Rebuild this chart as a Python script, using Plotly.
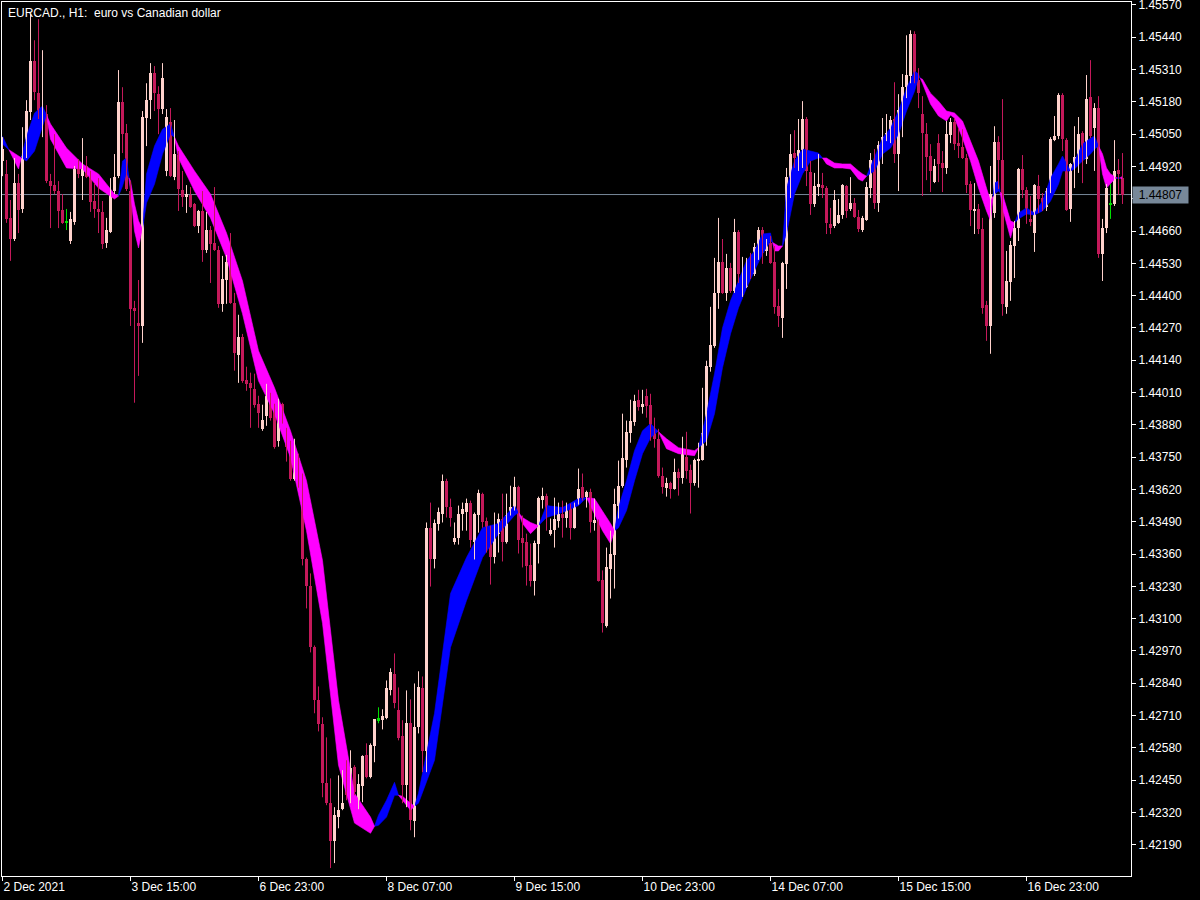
import plotly.graph_objects as go

TITLE = "EURCAD., H1:  euro vs Canadian dollar"
DATE_TICK_BARS = [0, 32, 64, 96, 128, 160, 192, 224, 256]
DATE_LABELS = ["2 Dec 2021", "3 Dec 15:00", "6 Dec 23:00", "8 Dec 07:00", "9 Dec 15:00",
               "10 Dec 23:00", "14 Dec 07:00", "15 Dec 15:00", "16 Dec 23:00"]
PRICE_TICKS = [1.45570, 1.45440, 1.45310, 1.45180, 1.45050, 1.44920, 1.44790, 1.44660, 1.44530,
               1.44400, 1.44270, 1.44140, 1.44010, 1.43880, 1.43750, 1.43620, 1.43490, 1.43360,
               1.43230, 1.43100, 1.42970, 1.42840, 1.42710, 1.42580, 1.42450, 1.42320, 1.42190]
BID = 1.44807
GREEN_BARS = [16, 94, 277]

OPEN = [
    1.44942, 1.44890, 1.44713, 1.44628, 1.44853, 1.44749, 1.44962, 1.45139, 1.45344, 1.45215,
    1.45131, 1.45131, 1.44861, 1.44845, 1.44821, 1.44745, 1.44693, 1.44620, 1.44697, 1.44930,
    1.44881, 1.44922, 1.44881, 1.44781, 1.44749, 1.44737, 1.44612, 1.44656, 1.44821, 1.44881,
    1.45179, 1.45054, 1.44821, 1.44351, 1.44291, 1.44278, 1.45115, 1.45187, 1.45296, 1.45211,
    1.45151, 1.44902, 1.45099, 1.44877, 1.44966, 1.44825, 1.44797, 1.44805, 1.44769, 1.44680,
    1.44741, 1.44584, 1.44664, 1.44612, 1.44584, 1.44367, 1.44463, 1.44540, 1.44371, 1.44162,
    1.44234, 1.44061, 1.44049, 1.44025, 1.43965, 1.43864, 1.43917, 1.43977, 1.43949, 1.43816,
    1.43965, 1.43864, 1.43788, 1.43663, 1.43748, 1.43655, 1.43342, 1.43233, 1.42984, 1.42771,
    1.42675, 1.42437, 1.42357, 1.42204, 1.42301, 1.42333, 1.42421, 1.42369, 1.42502, 1.42337,
    1.42425, 1.42550, 1.42461, 1.42586, 1.42691, 1.42691, 1.42699, 1.42811, 1.42876, 1.42731,
    1.42626, 1.42429, 1.42679, 1.42285, 1.42662, 1.42819, 1.42566, 1.43466, 1.43338, 1.43479,
    1.43523, 1.43655, 1.43551, 1.43410, 1.43426, 1.43523, 1.43531, 1.43567, 1.43410, 1.43519,
    1.43603, 1.43491, 1.43434, 1.43350, 1.43442, 1.43499, 1.43410, 1.43519, 1.43543, 1.43631,
    1.43426, 1.43410, 1.43314, 1.43253, 1.43402, 1.43579, 1.43595, 1.43442, 1.43458, 1.43491,
    1.43523, 1.43507, 1.43559, 1.43466, 1.43567, 1.43631, 1.43591, 1.43611, 1.43487, 1.43495,
    1.43257, 1.43072, 1.43298, 1.43358, 1.43555, 1.43635, 1.43740, 1.43848, 1.43893, 1.43981,
    1.43953, 1.43997, 1.43961, 1.43848, 1.43824, 1.43675, 1.43627, 1.43647, 1.43623, 1.43692,
    1.43667, 1.43752, 1.43700, 1.43647, 1.43736, 1.43740, 1.43844, 1.44114, 1.44198, 1.44411,
    1.44536, 1.44411, 1.44512, 1.44419, 1.44656, 1.44403, 1.44435, 1.44512, 1.44488, 1.44588,
    1.44664, 1.44580, 1.44612, 1.44536, 1.44359, 1.44311, 1.44528, 1.44873, 1.44974, 1.44954,
    1.44986, 1.45111, 1.44898, 1.44769, 1.44837, 1.44845, 1.44833, 1.44689, 1.44680, 1.44693,
    1.44725, 1.44841, 1.44749, 1.44773, 1.44717, 1.44664, 1.44705, 1.44833, 1.44942, 1.44773,
    1.44998, 1.45034, 1.45050, 1.45111, 1.44970, 1.45147, 1.45239, 1.45283, 1.45452, 1.45267,
    1.45131, 1.45050, 1.44962, 1.44857, 1.45014, 1.44934, 1.44914, 1.45046, 1.45099, 1.45014,
    1.44998, 1.44954, 1.44849, 1.44741, 1.44749, 1.44668, 1.44363, 1.44278, 1.44733, 1.45018,
    1.44946, 1.44355, 1.44455, 1.44600, 1.44672, 1.44910, 1.44825, 1.44709, 1.44652, 1.44841,
    1.44793, 1.44757, 1.44821, 1.45026, 1.45042, 1.45207, 1.45026, 1.44749, 1.44930, 1.44954,
    1.45054, 1.44950, 1.45199, 1.45074, 1.45155, 1.44568, 1.44672, 1.44765, 1.44769, 1.44906,
    1.44873,
]
HIGH = [
    1.45038, 1.44946, 1.44785, 1.44954, 1.44890, 1.45078, 1.45187, 1.45533, 1.45428, 1.45513,
    1.45388, 1.45167, 1.44890, 1.45050, 1.44861, 1.44809, 1.44749, 1.44737, 1.44922, 1.44950,
    1.45034, 1.44962, 1.44902, 1.44853, 1.44873, 1.44781, 1.44713, 1.44873, 1.44970, 1.45308,
    1.45239, 1.45091, 1.44861, 1.44379, 1.44463, 1.45143, 1.45255, 1.45336, 1.45324, 1.45243,
    1.45336, 1.45151, 1.45155, 1.45107, 1.44982, 1.44902, 1.44845, 1.44837, 1.44773, 1.44745,
    1.44821, 1.44737, 1.44680, 1.44837, 1.44600, 1.44560, 1.44564, 1.44652, 1.44411, 1.44323,
    1.44246, 1.44114, 1.44090, 1.44086, 1.43997, 1.43961, 1.44045, 1.44009, 1.43965, 1.43985,
    1.43969, 1.43868, 1.43816, 1.43824, 1.43764, 1.43684, 1.43346, 1.43282, 1.42992, 1.42827,
    1.42703, 1.42622, 1.42457, 1.42341, 1.42469, 1.42490, 1.42530, 1.42570, 1.42510, 1.42474,
    1.42550, 1.42598, 1.42598, 1.42695, 1.42743, 1.42735, 1.42851, 1.42900, 1.42960, 1.42823,
    1.42691, 1.42811, 1.42775, 1.42839, 1.42888, 1.42867, 1.43487, 1.43567, 1.43499, 1.43547,
    1.43680, 1.43663, 1.43583, 1.43487, 1.43555, 1.43567, 1.43583, 1.43575, 1.43527, 1.43619,
    1.43607, 1.43507, 1.43474, 1.43527, 1.43523, 1.43603, 1.43603, 1.43635, 1.43671, 1.43635,
    1.43515, 1.43442, 1.43402, 1.43414, 1.43591, 1.43627, 1.43603, 1.43503, 1.43587, 1.43567,
    1.43575, 1.43567, 1.43563, 1.43567, 1.43704, 1.43684, 1.43615, 1.43623, 1.43583, 1.43499,
    1.43294, 1.43386, 1.43454, 1.43623, 1.43736, 1.43925, 1.43897, 1.43981, 1.44001, 1.44021,
    1.44021, 1.44025, 1.44005, 1.43909, 1.43864, 1.43708, 1.43667, 1.43651, 1.43744, 1.43704,
    1.43832, 1.43852, 1.43720, 1.43744, 1.43808, 1.44029, 1.44138, 1.44355, 1.44552, 1.44713,
    1.44628, 1.44568, 1.44532, 1.44709, 1.44664, 1.44556, 1.44552, 1.44572, 1.44612, 1.44676,
    1.44676, 1.44628, 1.44640, 1.44600, 1.44427, 1.44536, 1.44914, 1.45050, 1.45066, 1.45111,
    1.45183, 1.45119, 1.44942, 1.44894, 1.44970, 1.44894, 1.44841, 1.44753, 1.44825, 1.44789,
    1.44849, 1.44845, 1.44877, 1.44793, 1.44745, 1.44721, 1.44857, 1.44974, 1.44990, 1.45022,
    1.45115, 1.45131, 1.45123, 1.45259, 1.45211, 1.45292, 1.45448, 1.45468, 1.45464, 1.45316,
    1.45203, 1.45095, 1.45010, 1.44950, 1.45050, 1.44982, 1.45103, 1.45115, 1.45115, 1.45074,
    1.45070, 1.44970, 1.44861, 1.44853, 1.44769, 1.44713, 1.44379, 1.44922, 1.45082, 1.45042,
    1.45191, 1.44580, 1.44620, 1.44701, 1.44914, 1.44966, 1.44837, 1.44801, 1.44849, 1.44886,
    1.44813, 1.44833, 1.45038, 1.45123, 1.45215, 1.45215, 1.45034, 1.44934, 1.45082, 1.45119,
    1.45062, 1.45288, 1.45348, 1.45175, 1.45203, 1.44709, 1.44849, 1.44849, 1.45026, 1.44950,
    1.44974,
]
LOW = [
    1.44881, 1.44693, 1.44540, 1.44620, 1.44652, 1.44733, 1.44954, 1.45107, 1.45187, 1.45111,
    1.45038, 1.44853, 1.44672, 1.44809, 1.44672, 1.44689, 1.44664, 1.44608, 1.44685, 1.44873,
    1.44785, 1.44873, 1.44737, 1.44713, 1.44652, 1.44588, 1.44592, 1.44652, 1.44809, 1.44873,
    1.44974, 1.44821, 1.44278, 1.43969, 1.44077, 1.44210, 1.45002, 1.45111, 1.45143, 1.45050,
    1.45131, 1.44881, 1.44877, 1.44865, 1.44741, 1.44757, 1.44733, 1.44753, 1.44676, 1.44652,
    1.44536, 1.44572, 1.44451, 1.44580, 1.44351, 1.44335, 1.44367, 1.44367, 1.44098, 1.44049,
    1.44049, 1.44017, 1.43868, 1.43949, 1.43868, 1.43856, 1.43876, 1.43897, 1.43784, 1.43792,
    1.43885, 1.43732, 1.43655, 1.43655, 1.43627, 1.43314, 1.43141, 1.42964, 1.42719, 1.42646,
    1.42381, 1.42349, 1.42096, 1.42116, 1.42256, 1.42329, 1.42369, 1.42357, 1.42389, 1.42333,
    1.42361, 1.42457, 1.42457, 1.42522, 1.42679, 1.42654, 1.42695, 1.42791, 1.42739, 1.42610,
    1.42357, 1.42341, 1.42248, 1.42220, 1.42638, 1.42482, 1.42482, 1.43229, 1.43302, 1.43454,
    1.43487, 1.43507, 1.43470, 1.43398, 1.43398, 1.43454, 1.43454, 1.43386, 1.43338, 1.43446,
    1.43466, 1.43366, 1.43237, 1.43322, 1.43366, 1.43330, 1.43402, 1.43515, 1.43535, 1.43362,
    1.43306, 1.43233, 1.43229, 1.43193, 1.43322, 1.43543, 1.43454, 1.43434, 1.43386, 1.43466,
    1.43426, 1.43466, 1.43418, 1.43462, 1.43559, 1.43575, 1.43547, 1.43446, 1.43454, 1.43249,
    1.43044, 1.43064, 1.43181, 1.43221, 1.43503, 1.43627, 1.43708, 1.43808, 1.43876, 1.43937,
    1.43925, 1.43909, 1.43816, 1.43788, 1.43667, 1.43603, 1.43591, 1.43583, 1.43619, 1.43595,
    1.43643, 1.43663, 1.43523, 1.43635, 1.43627, 1.43736, 1.43796, 1.44094, 1.44190, 1.44347,
    1.44407, 1.44379, 1.44411, 1.44411, 1.44451, 1.44395, 1.44431, 1.44467, 1.44479, 1.44544,
    1.44528, 1.44560, 1.44528, 1.44327, 1.44274, 1.44230, 1.44427, 1.44793, 1.44914, 1.44902,
    1.44914, 1.44841, 1.44725, 1.44757, 1.44801, 1.44793, 1.44648, 1.44648, 1.44672, 1.44689,
    1.44709, 1.44713, 1.44741, 1.44713, 1.44656, 1.44656, 1.44701, 1.44793, 1.44749, 1.44737,
    1.44930, 1.45022, 1.45014, 1.44934, 1.44821, 1.45038, 1.45195, 1.45255, 1.45255, 1.45155,
    1.44801, 1.44865, 1.44817, 1.44853, 1.44857, 1.44817, 1.44890, 1.45014, 1.44986, 1.44954,
    1.44950, 1.44813, 1.44680, 1.44648, 1.44648, 1.44327, 1.44218, 1.44166, 1.44713, 1.44829,
    1.44319, 1.44327, 1.44379, 1.44471, 1.44620, 1.44793, 1.44689, 1.44680, 1.44576, 1.44733,
    1.44741, 1.44741, 1.44813, 1.45022, 1.45030, 1.44982, 1.44741, 1.44697, 1.44833, 1.44894,
    1.44853, 1.44930, 1.45034, 1.44902, 1.44552, 1.44459, 1.44652, 1.44709, 1.44761, 1.44805,
    1.44769,
]
CLOSE = [
    1.44990, 1.44709, 1.44628, 1.44853, 1.44745, 1.44962, 1.45143, 1.45344, 1.45219, 1.45123,
    1.45143, 1.44861, 1.44841, 1.44821, 1.44741, 1.44693, 1.44701, 1.44709, 1.44910, 1.44890,
    1.44918, 1.44877, 1.44777, 1.44749, 1.44737, 1.44608, 1.44664, 1.44813, 1.44877, 1.45179,
    1.45050, 1.44829, 1.44347, 1.44339, 1.44278, 1.45119, 1.45187, 1.45296, 1.45215, 1.45151,
    1.45275, 1.45119, 1.44881, 1.44970, 1.44829, 1.44797, 1.44809, 1.44757, 1.44680, 1.44741,
    1.44584, 1.44664, 1.44608, 1.44584, 1.44367, 1.44467, 1.44536, 1.44371, 1.44170, 1.44234,
    1.44057, 1.44045, 1.44029, 1.43961, 1.43929, 1.43901, 1.43997, 1.43909, 1.43792, 1.43909,
    1.43905, 1.43792, 1.43663, 1.43728, 1.43655, 1.43342, 1.43233, 1.42984, 1.42771, 1.42675,
    1.42437, 1.42357, 1.42204, 1.42309, 1.42329, 1.42357, 1.42389, 1.42498, 1.42401, 1.42433,
    1.42546, 1.42461, 1.42590, 1.42695, 1.42699, 1.42707, 1.42819, 1.42884, 1.42759, 1.42618,
    1.42429, 1.42679, 1.42289, 1.42662, 1.42823, 1.42566, 1.43466, 1.43338, 1.43483, 1.43531,
    1.43655, 1.43551, 1.43507, 1.43426, 1.43523, 1.43543, 1.43567, 1.43418, 1.43523, 1.43607,
    1.43487, 1.43418, 1.43350, 1.43446, 1.43499, 1.43410, 1.43519, 1.43551, 1.43631, 1.43418,
    1.43406, 1.43310, 1.43253, 1.43406, 1.43587, 1.43595, 1.43543, 1.43458, 1.43499, 1.43523,
    1.43507, 1.43555, 1.43466, 1.43563, 1.43623, 1.43587, 1.43611, 1.43487, 1.43495, 1.43253,
    1.43081, 1.43306, 1.43362, 1.43563, 1.43635, 1.43748, 1.43852, 1.43897, 1.43977, 1.43953,
    1.43965, 1.43957, 1.43844, 1.43824, 1.43675, 1.43631, 1.43647, 1.43623, 1.43692, 1.43667,
    1.43768, 1.43696, 1.43647, 1.43740, 1.43744, 1.43848, 1.44118, 1.44202, 1.44411, 1.44536,
    1.44411, 1.44512, 1.44419, 1.44656, 1.44488, 1.44451, 1.44508, 1.44488, 1.44596, 1.44664,
    1.44572, 1.44612, 1.44532, 1.44355, 1.44319, 1.44532, 1.44877, 1.44970, 1.44954, 1.44986,
    1.45111, 1.44902, 1.44769, 1.44841, 1.44849, 1.44833, 1.44693, 1.44672, 1.44785, 1.44725,
    1.44845, 1.44741, 1.44773, 1.44717, 1.44668, 1.44713, 1.44837, 1.44946, 1.44773, 1.45006,
    1.45038, 1.45054, 1.45107, 1.44970, 1.45147, 1.45239, 1.45288, 1.45452, 1.45263, 1.45215,
    1.45054, 1.44958, 1.44902, 1.44922, 1.44930, 1.44914, 1.45050, 1.45099, 1.45010, 1.45002,
    1.44954, 1.44845, 1.44745, 1.44749, 1.44668, 1.44351, 1.44278, 1.44809, 1.45018, 1.44946,
    1.44367, 1.44459, 1.44604, 1.44672, 1.44910, 1.44825, 1.44741, 1.44697, 1.44845, 1.44789,
    1.44757, 1.44821, 1.45030, 1.45042, 1.45207, 1.45030, 1.44745, 1.44930, 1.44958, 1.45050,
    1.44962, 1.45191, 1.45042, 1.45155, 1.44568, 1.44672, 1.44833, 1.44773, 1.44902, 1.44890,
    1.44807,
]

# Indicator band: fast and slow lines sampled at these bars
BAND_BARS = [
    0, 2, 4, 6, 8, 10, 11, 12, 16, 20,
    24, 28, 29, 30, 31, 32, 33, 34, 35, 36,
    38, 40, 42, 43, 44, 48, 52, 56, 60, 64,
    68, 72, 76, 80, 84, 88, 92, 93, 94, 96,
    98, 99, 100, 102, 103, 104, 108, 112, 116, 120,
    124, 128, 129, 130, 132, 134, 136, 140, 144, 146,
    148, 150, 152, 153, 154, 156, 158, 160, 162, 164,
    166, 169, 173, 174, 176, 178, 180, 182, 184, 186,
    188, 190, 192, 193, 194, 195, 196, 198, 200, 202,
    204, 205, 206, 208, 210, 212, 214, 215, 216, 218,
    220, 222, 224, 226, 228, 229, 230, 232, 234, 236,
    237, 238, 240, 242, 244, 246, 247, 248, 249, 250,
    252, 253, 254, 256, 258, 260, 262, 264, 265, 267,
    268, 270, 272, 273, 274, 275, 276, 277, 278, 279,
    280,
]
BAND_FAST = [
    1.45042, 1.44974, 1.44910, 1.45042, 1.45135, 1.45163, 1.45127, 1.45030, 1.44914, 1.44910,
    1.44833, 1.44789, 1.44801, 1.44942, 1.44954, 1.44821, 1.44660, 1.44592, 1.44676, 1.44890,
    1.45002, 1.45070, 1.45091, 1.45038, 1.44954, 1.44821, 1.44713, 1.44552, 1.44327, 1.44057,
    1.43925, 1.43748, 1.43454, 1.43081, 1.42510, 1.42277, 1.42236, 1.42264, 1.42309, 1.42369,
    1.42441, 1.42389, 1.42369, 1.42329, 1.42345, 1.42397, 1.42719, 1.43201, 1.43346, 1.43466,
    1.43483, 1.43555, 1.43527, 1.43483, 1.43442, 1.43474, 1.43555, 1.43547, 1.43583, 1.43587,
    1.43523, 1.43454, 1.43402, 1.43454, 1.43547, 1.43655, 1.43776, 1.43856, 1.43885, 1.43852,
    1.43784, 1.43764, 1.43756, 1.43788, 1.43925, 1.44086, 1.44270, 1.44379, 1.44459, 1.44540,
    1.44580, 1.44648, 1.44652, 1.44580, 1.44580, 1.44600, 1.44833, 1.44942, 1.44990, 1.44982,
    1.44974, 1.44954, 1.44930, 1.44914, 1.44914, 1.44910, 1.44869, 1.44861, 1.44881, 1.44954,
    1.45034, 1.45074, 1.45143, 1.45235, 1.45304, 1.45292, 1.45255, 1.45171, 1.45123, 1.45103,
    1.45127, 1.45115, 1.45034, 1.44942, 1.44833, 1.44741, 1.44701, 1.44853, 1.44861, 1.44753,
    1.44632, 1.44693, 1.44733, 1.44753, 1.44733, 1.44781, 1.44873, 1.44930, 1.44962, 1.44902,
    1.44942, 1.45010, 1.45034, 1.45042, 1.45002, 1.44890, 1.44833, 1.44849, 1.44869, 1.44877,
    1.44869,
]
BAND_SLOW = [
    1.45010, 1.44982, 1.44962, 1.44942, 1.44982, 1.45082, 1.45127, 1.45091, 1.44994, 1.44930,
    1.44890, 1.44809, 1.44801, 1.44841, 1.44894, 1.44861, 1.44769, 1.44701, 1.44668, 1.44773,
    1.44849, 1.44970, 1.45050, 1.45038, 1.45002, 1.44902, 1.44809, 1.44652, 1.44459, 1.44178,
    1.44029, 1.43856, 1.43655, 1.43334, 1.42771, 1.42397, 1.42301, 1.42264, 1.42268, 1.42301,
    1.42389, 1.42389, 1.42385, 1.42357, 1.42345, 1.42357, 1.42530, 1.42984, 1.43173, 1.43346,
    1.43442, 1.43515, 1.43527, 1.43507, 1.43487, 1.43474, 1.43507, 1.43527, 1.43555, 1.43587,
    1.43583, 1.43535, 1.43483, 1.43454, 1.43466, 1.43535, 1.43655, 1.43764, 1.43828, 1.43856,
    1.43824, 1.43788, 1.43776, 1.43788, 1.43816, 1.43925, 1.44110, 1.44246, 1.44351, 1.44431,
    1.44500, 1.44568, 1.44620, 1.44608, 1.44600, 1.44600, 1.44648, 1.44809, 1.44890, 1.44942,
    1.44954, 1.44954, 1.44954, 1.44934, 1.44930, 1.44930, 1.44902, 1.44890, 1.44881, 1.44902,
    1.44970, 1.44994, 1.45050, 1.45143, 1.45223, 1.45279, 1.45271, 1.45215, 1.45183, 1.45143,
    1.45139, 1.45135, 1.45103, 1.45022, 1.44942, 1.44833, 1.44781, 1.44809, 1.44821, 1.44809,
    1.44701, 1.44693, 1.44709, 1.44729, 1.44725, 1.44741, 1.44781, 1.44849, 1.44902, 1.44902,
    1.44910, 1.44942, 1.44970, 1.44990, 1.45002, 1.44970, 1.44914, 1.44890, 1.44881, 1.44869,
    1.44881,
]

# ---- styling ----
BG = "#000000"
FG = "#FFFFFF"
BULL = "#FFD2CC"
BEAR = "#C4195A"
DOJI_GREEN = "#00E000"
UP_BAND = "#0000FF"
DN_BAND = "#FF00FF"
BID_COLOR = "#778899"
FONT = "Liberation Sans"

fig = go.Figure()

# ---- indicator band (split into up / down coloured runs) ----
pts = []
for k in range(len(BAND_BARS)):
    x, f, s = BAND_BARS[k], BAND_FAST[k], BAND_SLOW[k]
    if pts:
        x0, f0, s0 = pts[-1]
        d0, d1 = f0 - s0, f - s
        if d0 * d1 < 0:
            t = d0 / (d0 - d1)
            xm = x0 + t * (x - x0)
            ym = f0 + t * (f - f0)
            pts.append((xm, ym, ym))
    pts.append((x, f, s))

runs = []
cur = [pts[0]]
for p in pts[1:]:
    cur.append(p)
    if abs(p[1] - p[2]) < 1e-9:
        runs.append(cur)
        cur = [p]
if len(cur) > 1:
    runs.append(cur)

poly = {UP_BAND: ([], []), DN_BAND: ([], [])}
for r in runs:
    d = sum(p[1] - p[2] for p in r)
    col = UP_BAND if d > 0 else DN_BAND
    xs = [p[0] for p in r] + [p[0] for p in reversed(r)]
    ys = [p[1] for p in r] + [p[2] for p in reversed(r)]
    poly[col][0].extend(xs + [None])
    poly[col][1].extend(ys + [None])

for col, (xs, ys) in poly.items():
    fig.add_trace(go.Scatter(x=xs, y=ys, mode="lines", fill="toself", fillcolor=col,
                             line=dict(color=col, width=0.6), hoverinfo="skip",
                             showlegend=False))

# ---- candles ----
groups = {BULL: [], BEAR: [], DOJI_GREEN: []}
for i in range(len(CLOSE)):
    if i in GREEN_BARS:
        groups[DOJI_GREEN].append(i)
    elif CLOSE[i] >= OPEN[i]:
        groups[BULL].append(i)
    else:
        groups[BEAR].append(i)

MIN_BODY = 0.00004
for col, idx in groups.items():
    wx, wy = [], []
    for i in idx:
        wx += [i, i, None]
        wy += [LOW[i], HIGH[i], None]
    fig.add_trace(go.Scatter(x=wx, y=wy, mode="lines", line=dict(color=col, width=1),
                             hoverinfo="skip", showlegend=False))
    fig.add_trace(go.Bar(
        x=idx,
        base=[min(OPEN[i], CLOSE[i]) for i in idx],
        y=[max(abs(CLOSE[i] - OPEN[i]), MIN_BODY) for i in idx],
        width=0.75, marker=dict(color=col, line=dict(width=0)),
        hoverinfo="skip", showlegend=False))

# ---- bid line ----
fig.add_shape(type="line", xref="paper", x0=0, x1=1, yref="y", y0=BID, y1=BID,
              line=dict(color=BID_COLOR, width=1), layer="below")
fig.add_annotation(xref="paper", x=1, yref="y", y=BID, text=f"{BID:.5f}", showarrow=False,
                   xanchor="left", yanchor="middle", xshift=1, bgcolor=BID_COLOR,
                   font=dict(family=FONT, size=12, color="#000000"),
                   borderpad=1, width=53, align="center")

# ---- title ----
fig.add_annotation(xref="paper", yref="paper", x=0, y=1, xshift=4, yshift=-2,
                   text=TITLE.replace("  ", " \u00a0"), showarrow=False,
                   xanchor="left", yanchor="top",
                   font=dict(family=FONT, size=12, color=FG))

fig.update_layout(
    width=1200, height=900,
    paper_bgcolor=BG, plot_bgcolor=BG,
    margin=dict(l=2, r=69, t=2, b=24, autoexpand=False),
    barmode="overlay", bargap=0,
    font=dict(family=FONT, size=12, color=FG),
    showlegend=False,
    xaxis=dict(range=[-0.125, 282.125], showgrid=False, zeroline=False,
               showline=True, linecolor=FG, linewidth=1, mirror=True,
               ticks="outside", ticklen=4, tickcolor=FG, tickwidth=1,
               tickmode="array", tickvals=DATE_TICK_BARS, ticktext=DATE_LABELS,
               ticklabelposition="outside right", ticklabeloverflow="allow",
               tickfont=dict(family=FONT, size=12, color=FG), fixedrange=True),
    yaxis=dict(range=[1.42064, 1.45582], side="right", showgrid=False, zeroline=False,
               showline=True, linecolor=FG, linewidth=1, mirror=True,
               ticks="outside", ticklen=4, tickcolor=FG, tickwidth=1,
               tickmode="array", tickvals=PRICE_TICKS,
               ticktext=[f"{v:.5f}" for v in PRICE_TICKS], ticklabeloverflow="allow",
               tickfont=dict(family=FONT, size=12, color=FG), fixedrange=True),
)

fig.write_html("out.html", config={"displayModeBar": False},
               post_script="document.body.style.margin='0px';document.body.style.background='#000';")
